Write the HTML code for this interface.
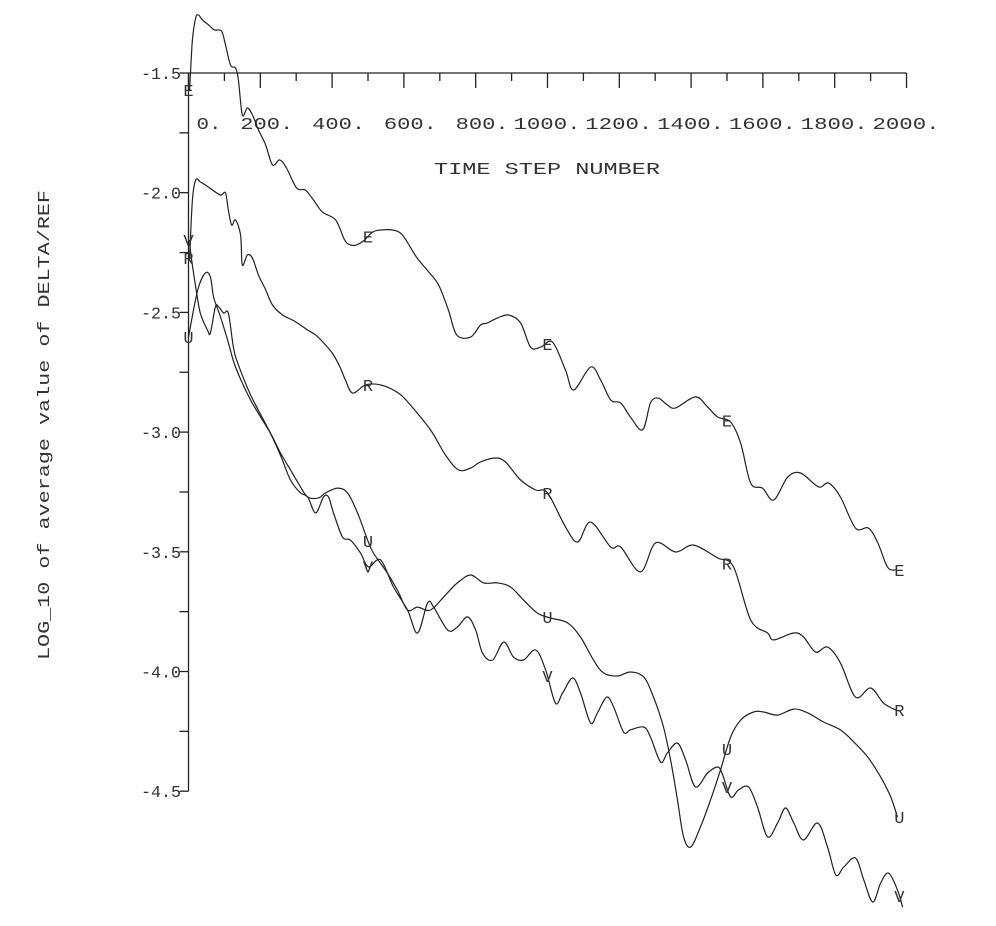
<!DOCTYPE html>
<html><head><meta charset="utf-8"><style>
html,body{margin:0;padding:0;background:#fff;}
svg{display:block;}
text{font-family:"Liberation Mono","DejaVu Sans Mono",monospace;fill:#333;}
</style></head><body>
<svg id="chart" width="996" height="926" viewBox="0 0 996 926" xmlns="http://www.w3.org/2000/svg">
<g id="axes"></g>
<g id="series"></g>
<g id="markers"></g>
<text x="434" y="174" font-size="17" textLength="226" lengthAdjust="spacingAndGlyphs">TIME STEP NUMBER</text>
<text x="0" y="0" font-size="17" textLength="470" lengthAdjust="spacingAndGlyphs" transform="translate(49,660) rotate(-90)">LOG_10 of average value of DELTA/REF</text>
</svg>
<script>
const xTicks = [0,100,200,300,400,500,600,700,800,900,1000,1100,1200,1300,1400,1500,1600,1700,1800,1900,2000];
const xTickLabels = ["0.","200.","400.","600.","800.","1000.","1200.","1400.","1600.","1800.","2000."];
const xLabelSteps = [0,200,400,600,800,1000,1200,1400,1600,1800,2000];
const yTicks = [-1.5,-1.75,-2.0,-2.25,-2.5,-2.75,-3.0,-3.25,-3.5,-3.75,-4.0,-4.25,-4.5];
const yTickLabels = ["-1.5","-2.0","-2.5","-3.0","-3.5","-4.0","-4.5"];
const yLabelValues = [-1.5,-2.0,-2.5,-3.0,-3.5,-4.0,-4.5];
const markerSteps = [0,500,1000,1500,1980];

const eSteps = [3,11,20,28,39,56,72,92,103,117,131,139,150,164,178,195,215,234,254,273,301,326,348,373,410,435,451,468,490,513,535,568,596,635,669,697,724,747,786,813,833,861,892,925,953,981,1014,1050,1073,1120,1148,1176,1204,1231,1265,1287,1309,1334,1357,1412,1446,1474,1510,1538,1566,1599,1630,1669,1705,1755,1783,1816,1858,1894,1920,1947,1970];
const eValues = [-1.571,-1.362,-1.270,-1.258,-1.279,-1.299,-1.320,-1.325,-1.383,-1.467,-1.479,-1.529,-1.675,-1.646,-1.675,-1.738,-1.801,-1.884,-1.863,-1.897,-1.980,-1.989,-2.030,-2.081,-2.114,-2.198,-2.218,-2.218,-2.198,-2.164,-2.156,-2.156,-2.177,-2.269,-2.331,-2.386,-2.490,-2.594,-2.603,-2.553,-2.544,-2.523,-2.511,-2.544,-2.645,-2.645,-2.624,-2.741,-2.824,-2.728,-2.782,-2.866,-2.878,-2.937,-2.991,-2.878,-2.858,-2.887,-2.899,-2.853,-2.895,-2.937,-2.958,-3.046,-3.213,-3.234,-3.284,-3.188,-3.171,-3.229,-3.213,-3.271,-3.401,-3.401,-3.463,-3.564,-3.576];

const rSteps = [3,11,20,33,47,67,89,103,111,120,131,145,150,164,178,195,215,234,262,290,312,332,354,382,404,423,437,457,493,535,585,618,674,716,752,786,813,855,883,925,967,1000,1050,1084,1120,1176,1204,1259,1301,1357,1407,1474,1518,1566,1613,1630,1686,1713,1747,1780,1816,1858,1900,1936,1970];
const rValues = [-2.273,-2.030,-1.947,-1.955,-1.968,-1.989,-2.010,-2.001,-2.072,-2.135,-2.114,-2.177,-2.302,-2.260,-2.273,-2.344,-2.406,-2.469,-2.511,-2.532,-2.553,-2.574,-2.594,-2.636,-2.678,-2.732,-2.782,-2.837,-2.803,-2.803,-2.837,-2.887,-2.991,-3.096,-3.158,-3.150,-3.125,-3.108,-3.125,-3.200,-3.242,-3.254,-3.396,-3.459,-3.376,-3.480,-3.480,-3.584,-3.463,-3.501,-3.472,-3.526,-3.563,-3.785,-3.839,-3.868,-3.839,-3.856,-3.919,-3.898,-3.964,-4.107,-4.069,-4.132,-4.161];

const uSteps = [0,14,28,47,61,70,89,109,131,173,228,256,284,312,332,362,382,415,443,471,499,515,554,582,610,638,674,716,749,786,822,861,897,933,972,1009,1056,1092,1128,1156,1195,1231,1268,1295,1323,1343,1362,1379,1399,1426,1454,1482,1510,1538,1574,1602,1641,1686,1725,1769,1816,1853,1892,1928,1956,1975];
const uValues = [-2.603,-2.490,-2.394,-2.335,-2.352,-2.436,-2.519,-2.615,-2.728,-2.866,-3.004,-3.087,-3.158,-3.229,-3.271,-3.275,-3.254,-3.234,-3.254,-3.338,-3.451,-3.505,-3.589,-3.660,-3.743,-3.731,-3.743,-3.680,-3.630,-3.597,-3.630,-3.630,-3.647,-3.701,-3.756,-3.777,-3.797,-3.856,-3.952,-4.006,-4.019,-4.002,-4.023,-4.106,-4.232,-4.370,-4.537,-4.691,-4.733,-4.650,-4.537,-4.411,-4.274,-4.203,-4.169,-4.169,-4.182,-4.157,-4.173,-4.211,-4.244,-4.294,-4.357,-4.441,-4.524,-4.608];

const vSteps = [3,6,20,33,53,61,75,84,98,111,125,137,173,228,256,284,312,332,354,376,390,404,429,451,479,501,535,571,610,638,666,683,722,749,777,800,819,847,878,905,933,967,995,1022,1042,1070,1092,1120,1139,1165,1184,1212,1231,1268,1287,1315,1334,1362,1385,1412,1446,1474,1488,1510,1532,1560,1585,1613,1641,1663,1686,1713,1752,1780,1803,1825,1858,1881,1906,1928,1950,1975,1989];
const vValues = [-2.198,-2.252,-2.394,-2.503,-2.574,-2.586,-2.477,-2.477,-2.503,-2.503,-2.645,-2.711,-2.845,-3.004,-3.096,-3.200,-3.254,-3.271,-3.338,-3.271,-3.271,-3.338,-3.438,-3.451,-3.505,-3.563,-3.534,-3.647,-3.743,-3.839,-3.714,-3.731,-3.827,-3.814,-3.772,-3.827,-3.923,-3.952,-3.877,-3.939,-3.952,-3.910,-3.994,-4.132,-4.090,-4.027,-4.090,-4.215,-4.173,-4.107,-4.148,-4.253,-4.244,-4.232,-4.274,-4.378,-4.340,-4.299,-4.370,-4.482,-4.424,-4.399,-4.432,-4.524,-4.495,-4.482,-4.566,-4.691,-4.633,-4.570,-4.633,-4.704,-4.633,-4.733,-4.850,-4.817,-4.779,-4.871,-4.963,-4.883,-4.842,-4.913,-4.984];

const NS = "http://www.w3.org/2000/svg";
function xS(s){ return 188.5 + s * (718 / 2000); }
function yS(v){ return 73 + (-1.5 - v) * 239.4; }
function mk(tag, parent, attrs){
  const el = document.createElementNS(NS, tag);
  for (const k in attrs) el.setAttribute(k, attrs[k]);
  parent.appendChild(el);
  return el;
}
const axes = document.getElementById('axes');
const lineStyle = {stroke:'#222','stroke-width':'1.3',fill:'none'};

let xa = mk('line', axes, Object.assign({x1:xS(0), y1:yS(-1.5), x2:xS(2000), y2:yS(-1.5)}, lineStyle));


let ya = mk('line', axes, Object.assign({x1:xS(0), y1:yS(-1.5), x2:xS(0), y2:yS(-4.5)}, lineStyle));



xTicks.forEach(function(s){
  const len = (s % 200 === 0) ? 15 : 8;
  const t = mk('line', axes, Object.assign({x1:xS(s), y1:yS(-1.5), x2:xS(s), y2:yS(-1.5)+len}, lineStyle));
  
  
});
xTickLabels.forEach(function(lab, i){
  const off = 8 - 14 * (lab.length - 2);
  const t = mk('text', axes, {x:xS(xLabelSteps[i]) + off, y:129, 'font-size':'17', textLength:String(lab.length*14-3), lengthAdjust:'spacingAndGlyphs'});
  t.textContent = lab;
  
  
});
yTicks.forEach(function(v){
  const t = mk('line', axes, Object.assign({x1:xS(0)-9, y1:yS(v), x2:xS(0), y2:yS(v)}, lineStyle));
  
  
});
yTickLabels.forEach(function(lab, i){
  const t = mk('text', axes, {x:181, y:yS(yLabelValues[i]) + 6, 'font-size':'17', 'text-anchor':'end', textLength:'40', lengthAdjust:'spacingAndGlyphs'});
  t.textContent = lab;
  
  
});

function interp(steps, vals, s){
  if (s <= steps[0]) return vals[0];
  for (let i = 1; i < steps.length; i++){
    if (s <= steps[i]){
      const f = (s - steps[i-1]) / (steps[i] - steps[i-1]);
      return vals[i-1] + f * (vals[i] - vals[i-1]);
    }
  }
  return vals[vals.length-1];
}
function smoothPath(pts){
  let d = 'M' + pts[0][0].toFixed(1) + ',' + pts[0][1].toFixed(1);
  for (let i = 0; i < pts.length - 1; i++){
    const p0 = pts[Math.max(0, i-1)], p1 = pts[i], p2 = pts[i+1], p3 = pts[Math.min(pts.length-1, i+2)];
    const c1x = p1[0] + (p2[0]-p0[0])/6, c1y = p1[1] + (p2[1]-p0[1])/6;
    const c2x = p2[0] - (p3[0]-p1[0])/6, c2y = p2[1] - (p3[1]-p1[1])/6;
    d += ' C' + c1x.toFixed(1) + ',' + c1y.toFixed(1) + ' ' + c2x.toFixed(1) + ',' + c2y.toFixed(1) + ' ' + p2[0].toFixed(1) + ',' + p2[1].toFixed(1);
  }
  return d;
}
const seriesG = document.getElementById('series');
const markG = document.getElementById('markers');
function drawSeries(steps, vals, letter, name){
  const pts = steps.map(function(s, i){ return [xS(s), yS(vals[i])]; });
  const p = mk('path', seriesG, {d:smoothPath(pts), stroke:'#222', 'stroke-width':'1.2', fill:'none', 'stroke-linejoin':'round'});
  
  
  markerSteps.forEach(function(ms){
    const v = interp(steps, vals, ms);
    const t = mk('text', markG, {x:xS(ms), y:yS(v) + 6, 'font-size':'17', 'text-anchor':'middle'});
    t.textContent = letter;
    
    
  });
}
drawSeries(eSteps, eValues, 'E', 'series-e');
drawSeries(rSteps, rValues, 'R', 'series-r');
drawSeries(uSteps, uValues, 'U', 'series-u');
drawSeries(vSteps, vValues, 'V', 'series-v');
</script>
</body></html>
